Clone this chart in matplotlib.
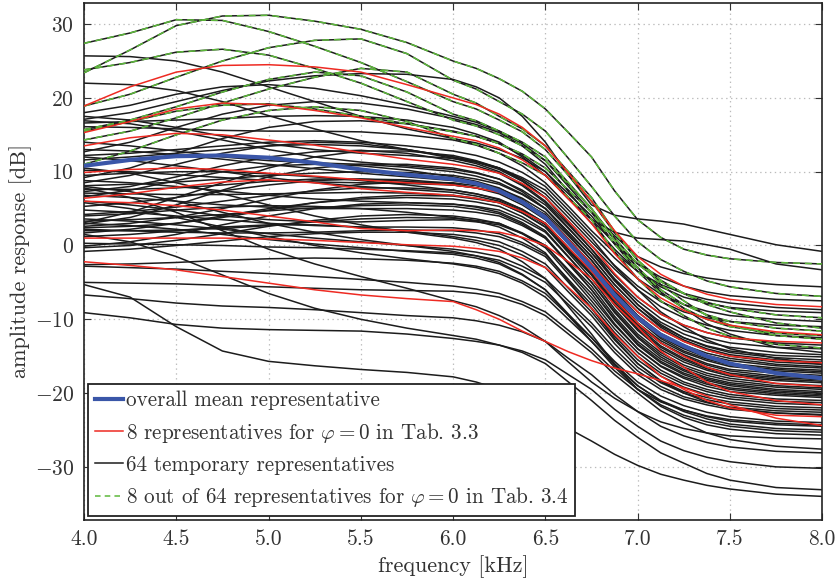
import matplotlib
matplotlib.use("Agg")
import matplotlib.pyplot as plt
from matplotlib.lines import Line2D

plt.rcParams["font.family"] = "serif"
plt.rcParams["font.serif"] = ["cmr10", "DejaVu Serif"]
plt.rcParams["mathtext.fontset"] = "cm"
plt.rcParams["axes.formatter.use_mathtext"] = True
plt.rcParams["axes.unicode_minus"] = True
plt.rcParams["lines.scale_dashes"] = False

# frequency grid (kHz)
freq = [4.0, 4.25, 4.5, 4.75, 5.0, 5.25, 5.5, 5.75, 6.0, 6.125, 6.25, 6.375, 6.5,
        6.625, 6.75, 6.875, 7.0, 7.125, 7.25, 7.375, 7.5, 7.75, 8.0]

# overall mean representative (dB)
mean_rep = [10.8, 11.6, 12.1, 12.2, 11.9, 11.2, 10.3, 9.6, 9.0, 8.4, 7.4, 5.9, 3.8, 0.4, -3.0, -6.7, -9.8, -12.1, -13.6, -15.0, -16.0, -17.3, -18.0]

# 8 representatives for phi=0 in Tab. 3.3 (red)
tab33_reps = [
    [18.9, 21.5, 23.5, 24.4, 24.5, 24.2, 23.5, 21.8, 20.0, 19.1, 17.8, 16.0, 13.5, 9.8, 6.0, 2.0, -1.5, -3.9, -5.5, -6.6, -7.3, -8.0, -8.3],
    [15.3, 16.8, 18.5, 19.3, 19.1, 18.3, 17.3, 16.0, 14.8, 14.2, 13.2, 11.6, 9.5, 6.3, 3.0, -1.1, -4.5, -7.1, -8.8, -10.0, -10.8, -11.7, -12.1],
    [13.5, 14.6, 15.2, 15.0, 14.3, 13.6, 12.6, 11.7, 11.0, 10.5, 9.8, 8.4, 6.5, 3.3, 0.0, -3.8, -7.0, -9.3, -10.8, -11.8, -12.5, -13.0, -13.2],
    [9.9, 10.3, 10.5, 10.3, 9.8, 9.4, 8.9, 8.5, 8.2, 7.8, 7.2, 5.9, 4.0, 0.8, -2.5, -6.0, -9.0, -11.4, -13.0, -14.2, -15.0, -15.6, -15.9],
    [6.4, 7.0, 7.9, 8.6, 8.9, 8.5, 7.7, 7.2, 6.8, 6.4, 5.8, 4.6, 3.0, -0.3, -3.5, -7.3, -10.5, -13.2, -15.0, -16.5, -17.5, -18.7, -19.1],
    [6.0, 5.8, 5.4, 4.8, 4.0, 3.2, 2.3, 2.0, 2.1, 2.0, 1.8, 1.1, 0.0, -2.2, -4.5, -8.0, -11.0, -14.3, -16.5, -18.5, -19.8, -21.0, -21.6],
    [1.0, 1.0, 1.0, 1.0, 0.9, 0.7, 0.4, 0.1, -0.1, -0.4, -0.8, -1.7, -3.0, -5.7, -8.5, -12.0, -15.0, -17.7, -19.5, -21.0, -22.0, -23.0, -23.2],
    [-2.2, -2.7, -3.3, -4.2, -5.1, -6.0, -6.7, -7.2, -7.6, -8.7, -10.0, -11.6, -13.0, -14.4, -15.6, -16.6, -17.4, -18.3, -19.3, -20.4, -21.6, -23.4, -24.4],
]

# 8 out of 64 representatives for phi=0 in Tab. 3.4 (green dashed, part of the 64)
tab34_reps = [
    [27.4, 28.8, 30.6, 30.5, 29.0, 27.0, 24.8, 22.2, 19.5, 18.5, 17.0, 15.4, 13.0, 9.5, 6.0, 1.7, -2.0, -4.7, -6.5, -8.0, -9.0, -10.5, -11.2],
    [23.4, 26.5, 29.8, 31.1, 31.2, 30.4, 29.3, 27.5, 25.0, 24.0, 22.6, 20.9, 18.5, 15.3, 12.0, 7.4, 3.5, 1.1, -0.5, -1.3, -1.8, -2.3, -2.5],
    [23.8, 24.8, 26.2, 26.6, 25.8, 24.0, 22.0, 19.5, 17.0, 16.2, 15.0, 13.5, 11.5, 8.3, 5.0, 1.0, -2.5, -4.9, -6.5, -7.7, -8.5, -9.4, -9.8],
    [18.9, 20.5, 22.8, 25.0, 26.8, 27.8, 28.0, 26.0, 22.4, 21.2, 19.5, 17.8, 15.5, 11.8, 8.0, 4.0, 0.5, -1.9, -3.5, -4.8, -5.6, -6.5, -6.9],
    [15.7, 17.0, 18.8, 20.8, 22.5, 23.5, 23.0, 20.8, 17.8, 16.9, 15.5, 14.0, 12.0, 8.5, 5.0, 0.7, -3.0, -6.0, -8.0, -9.4, -10.3, -11.2, -11.6],
    [14.3, 15.5, 17.3, 19.3, 21.2, 22.8, 24.0, 23.5, 20.5, 19.3, 17.5, 15.8, 13.5, 10.0, 6.5, 1.9, -2.0, -5.3, -7.5, -9.5, -10.8, -12.2, -12.7],
    [11.0, 12.8, 15.0, 17.0, 18.3, 18.8, 18.3, 16.8, 14.5, 13.7, 12.5, 11.2, 9.5, 6.5, 3.5, -0.8, -4.5, -7.5, -9.5, -11.2, -12.3, -13.4, -13.9],
    [15.5, 16.8, 18.2, 19.0, 19.2, 18.5, 17.5, 16.5, 15.4, 14.8, 13.8, 12.4, 10.5, 7.5, 4.5, 0.2, -3.5, -6.5, -8.5, -10.0, -11.0, -11.9, -12.2],
]

# remaining 56 of the 64 temporary representatives (black)
temp_reps = [
    [25.7, 25.6, 25.0, 23.5, 21.5, 19.5, 17.5, 15.8, 14.5, 13.9, 13.0, 11.8, 10.0, 7.0, 4.0, 0.2, -3.0, -6.3, -8.5, -10.6, -12.0, -13.8, -14.5],
    [22.0, 21.8, 21.0, 19.5, 17.6, 15.8, 14.2, 13.0, 12.0, 11.4, 10.5, 9.2, 7.5, 4.3, 1.0, -2.8, -6.0, -9.0, -11.0, -12.8, -14.0, -15.3, -16.1],
    [17.1, 18.0, 19.5, 21.0, 22.3, 23.0, 23.3, 23.2, 22.5, 21.5, 20.0, 17.5, 14.0, 9.5, 5.5, 4.1, 3.6, 3.3, 2.9, 2.2, 1.5, 0.1, -0.8],
    [16.6, 16.8, 17.0, 17.2, 17.5, 17.6, 17.5, 17.0, 16.0, 15.1, 14.0, 12.0, 9.5, 6.3, 3.5, 1.8, 1.0, 0.8, 0.6, 0.1, -0.5, -2.5, -3.3],
    [18.0, 19.0, 20.5, 21.5, 21.8, 21.3, 20.3, 19.0, 17.5, 16.7, 15.5, 13.8, 11.5, 8.0, 4.5, 1.3, -1.5, -2.9, -3.8, -4.4, -4.8, -5.3, -5.6],
    [12.7, 14.0, 16.0, 17.8, 19.0, 19.5, 19.3, 18.5, 17.2, 16.4, 15.3, 13.5, 11.0, 7.3, 3.5, 0.3, -2.5, -4.3, -5.5, -6.3, -6.8, -7.3, -7.5],
    [16.1, 16.0, 15.8, 15.6, 15.5, 15.5, 15.4, 15.0, 14.3, 13.6, 12.5, 10.8, 8.5, 5.3, 2.0, -1.0, -3.5, -5.3, -6.5, -7.3, -7.8, -8.4, -8.7],
    [9.2, 10.5, 12.5, 14.5, 16.0, 16.8, 16.9, 16.5, 15.5, 14.8, 13.8, 12.2, 10.0, 6.5, 3.0, -0.5, -3.5, -5.6, -7.0, -7.8, -8.4, -8.9, -9.1],
    [12.2, 12.5, 13.0, 13.5, 14.0, 14.2, 14.0, 13.5, 12.8, 12.2, 11.3, 9.9, 8.0, 4.8, 1.5, -1.7, -4.5, -6.6, -8.0, -8.9, -9.5, -10.0, -10.3],
    [17.5, 17.0, 16.0, 14.8, 13.8, 13.0, 12.5, 12.2, 11.8, 11.3, 10.5, 9.0, 7.0, 3.8, 0.5, -2.7, -5.5, -7.6, -9.0, -9.8, -10.3, -10.8, -11.0],
    [11.6, 12.0, 12.5, 13.0, 13.5, 13.7, 13.5, 13.0, 12.0, 11.3, 10.3, 8.7, 6.5, 3.3, 0.0, -3.2, -6.0, -8.3, -9.8, -10.8, -11.5, -12.2, -12.5],
    [8.5, 9.5, 11.0, 12.5, 13.5, 14.0, 13.8, 13.0, 11.8, 11.1, 10.0, 8.3, 6.0, 2.8, -0.5, -4.0, -7.0, -9.3, -10.8, -11.8, -12.5, -13.2, -13.5],
    [16.9, 16.5, 15.5, 14.3, 13.0, 12.0, 11.3, 10.8, 10.3, 9.8, 9.0, 7.5, 5.5, 2.3, -1.0, -4.5, -7.5, -9.9, -11.5, -12.5, -13.2, -13.8, -14.0],
    [7.3, 8.0, 9.3, 10.8, 12.0, 12.7, 12.9, 12.5, 11.5, 10.8, 9.8, 8.1, 5.8, 2.4, -1.0, -4.8, -8.0, -10.4, -12.0, -13.1, -13.8, -14.5, -14.8],
    [14.0, 13.5, 12.8, 12.0, 11.5, 11.2, 11.0, 10.6, 10.0, 9.4, 8.5, 7.0, 5.0, 1.8, -1.5, -5.3, -8.5, -10.9, -12.5, -13.6, -14.3, -14.9, -15.1],
    [3.1, 4.5, 6.5, 8.5, 10.5, 12.0, 12.8, 12.8, 12.2, 11.5, 10.5, 8.8, 6.5, 3.0, -0.5, -4.6, -8.0, -10.7, -12.5, -13.7, -14.5, -15.2, -15.5],
    [8.1, 8.3, 8.6, 9.0, 9.5, 9.8, 10.0, 9.9, 9.5, 9.0, 8.3, 6.9, 5.0, 1.8, -1.5, -5.3, -8.5, -11.1, -12.8, -14.0, -14.8, -15.5, -15.8],
    [13.0, 12.8, 12.3, 11.7, 11.0, 10.4, 9.8, 9.3, 8.8, 8.4, 7.7, 6.4, 4.5, 1.3, -2.0, -5.8, -9.0, -11.4, -13.0, -14.2, -15.0, -15.8, -16.1],
    [7.6, 7.6, 7.8, 8.2, 8.7, 9.0, 9.0, 8.7, 8.2, 7.8, 7.2, 5.9, 4.0, 0.8, -2.5, -6.3, -9.5, -11.9, -13.5, -14.6, -15.3, -16.1, -16.4],
    [2.9, 3.8, 5.5, 7.5, 9.3, 10.5, 11.0, 11.0, 10.5, 9.9, 9.0, 7.3, 5.0, 1.5, -2.0, -6.1, -9.5, -12.1, -13.8, -14.9, -15.6, -16.3, -16.6],
    [10.2, 10.0, 9.6, 9.2, 8.8, 8.6, 8.5, 8.4, 8.2, 7.8, 7.2, 5.9, 4.2, 0.9, -2.5, -6.6, -10.0, -12.4, -14.0, -15.2, -16.0, -16.6, -16.9],
    [6.6, 7.5, 8.8, 10.0, 10.8, 11.0, 10.8, 10.2, 9.3, 8.7, 7.8, 6.2, 4.0, 0.5, -3.0, -6.8, -10.0, -12.6, -14.3, -15.4, -16.2, -16.8, -17.1],
    [5.3, 5.8, 6.5, 7.4, 8.2, 8.8, 9.0, 8.9, 8.4, 7.8, 7.0, 5.5, 3.5, 0.3, -3.0, -7.1, -10.5, -12.9, -14.5, -15.6, -16.4, -17.0, -17.3],
    [9.5, 9.8, 10.0, 10.0, 9.7, 9.3, 8.8, 8.2, 7.5, 7.0, 6.2, 4.9, 3.0, -0.3, -3.5, -7.4, -10.8, -13.2, -14.8, -16.0, -16.8, -17.3, -17.6],
    [2.6, 3.0, 3.8, 5.0, 6.3, 7.5, 8.3, 8.6, 8.5, 8.1, 7.5, 6.0, 4.0, 0.5, -3.0, -7.1, -10.5, -13.2, -15.0, -16.2, -17.0, -17.7, -18.0],
    [4.2, 4.6, 5.2, 6.0, 6.8, 7.4, 7.8, 7.8, 7.5, 7.0, 6.3, 4.9, 3.0, -0.4, -3.8, -7.7, -11.0, -13.6, -15.3, -16.5, -17.3, -17.9, -18.2],
    [12.0, 11.5, 10.8, 10.0, 9.2, 8.5, 8.0, 7.6, 7.2, 6.7, 6.0, 4.7, 2.8, -0.6, -4.0, -7.9, -11.3, -13.8, -15.5, -16.7, -17.5, -18.1, -18.4],
    [7.1, 7.0, 6.9, 6.9, 7.0, 7.1, 7.2, 7.1, 6.8, 6.4, 5.8, 4.4, 2.5, -0.8, -4.0, -8.1, -11.5, -14.1, -15.8, -16.9, -17.7, -18.3, -18.6],
    [2.4, 2.6, 3.0, 3.8, 4.8, 5.8, 6.5, 6.8, 6.7, 6.3, 5.8, 4.4, 2.5, -1.0, -4.5, -8.6, -12.0, -14.5, -16.2, -17.3, -18.0, -18.7, -19.0],
    [8.8, 8.5, 8.0, 7.4, 6.8, 6.3, 6.0, 5.8, 5.6, 5.3, 4.8, 3.5, 1.8, -1.6, -5.0, -8.9, -12.3, -14.8, -16.5, -17.6, -18.3, -19.0, -19.3],
    [1.7, 2.2, 3.0, 4.0, 5.0, 5.8, 6.3, 6.5, 6.3, 5.9, 5.3, 3.9, 2.0, -1.5, -5.0, -9.1, -12.5, -15.1, -16.8, -17.9, -18.6, -19.2, -19.5],
    [6.8, 6.5, 6.0, 5.5, 5.2, 5.0, 5.0, 5.0, 4.8, 4.5, 4.0, 2.7, 1.0, -2.3, -5.5, -9.6, -13.0, -15.4, -17.0, -18.1, -18.8, -19.5, -19.8],
    [3.3, 3.5, 3.8, 4.2, 4.7, 5.1, 5.4, 5.5, 5.3, 4.9, 4.3, 2.9, 1.0, -2.5, -6.0, -9.9, -13.3, -15.7, -17.3, -18.3, -19.0, -19.7, -20.0],
    [-0.1, 0.5, 1.5, 2.8, 4.0, 5.0, 5.6, 5.8, 5.6, 5.2, 4.5, 3.1, 1.2, -2.4, -6.0, -10.1, -13.5, -15.9, -17.5, -18.6, -19.3, -19.9, -20.2],
    [6.0, 5.5, 4.8, 4.0, 3.5, 3.2, 3.2, 3.4, 3.5, 3.2, 2.8, 1.6, 0.0, -3.3, -6.5, -10.6, -14.0, -16.3, -17.8, -18.8, -19.5, -20.1, -20.4],
    [2.0, 2.0, 2.1, 2.3, 2.7, 3.2, 3.6, 3.8, 3.7, 3.4, 3.0, 1.7, 0.0, -3.5, -7.0, -10.8, -14.0, -16.4, -18.0, -19.1, -19.8, -20.3, -20.6],
    [-0.3, 0.0, 0.7, 1.6, 2.6, 3.4, 4.0, 4.2, 4.0, 3.6, 3.0, 1.6, -0.3, -3.9, -7.5, -11.3, -14.5, -16.9, -18.5, -19.5, -20.2, -20.8, -21.0],
    [4.8, 4.5, 4.0, 3.5, 3.0, 2.7, 2.5, 2.5, 2.4, 2.1, 1.6, 0.4, -1.2, -4.6, -8.0, -11.8, -15.0, -17.3, -18.8, -19.8, -20.5, -21.1, -21.3],
    [2.2, 2.0, 1.8, 1.7, 1.7, 1.8, 2.0, 2.1, 2.0, 1.7, 1.2, 0.1, -1.5, -5.0, -8.5, -12.3, -15.5, -17.7, -19.2, -20.2, -20.8, -21.4, -21.6],
    [-0.8, -0.5, 0.0, 0.6, 1.2, 1.6, 1.8, 1.8, 1.5, 1.1, 0.5, -0.8, -2.5, -5.8, -9.0, -12.8, -16.0, -18.3, -19.8, -20.6, -21.2, -21.8, -22.0],
    [1.2, 1.5, 2.0, 2.5, 2.8, 2.8, 2.5, 2.0, 1.2, 0.7, 0.0, -1.3, -3.0, -6.3, -9.5, -13.3, -16.5, -18.6, -20.0, -20.9, -21.5, -22.1, -22.3],
    [3.6, 3.3, 2.8, 2.2, 1.6, 1.0, 0.5, 0.0, -0.5, -0.9, -1.5, -2.8, -4.5, -7.5, -10.5, -14.0, -17.0, -19.1, -20.5, -21.3, -21.9, -22.4, -22.6],
    [0.3, 0.2, 0.1, 0.0, -0.2, -0.3, -0.5, -0.7, -1.0, -1.4, -2.0, -3.3, -5.0, -8.0, -11.0, -14.5, -17.5, -19.5, -20.8, -21.6, -22.2, -22.7, -22.9],
    [4.0, 4.3, 4.8, 5.2, 5.4, 5.3, 5.0, 4.5, 3.8, 3.3, 2.5, 1.0, -1.0, -4.8, -8.5, -12.6, -16.0, -18.4, -20.0, -21.2, -22.0, -22.7, -23.0],
    [-2.6, -2.5, -2.3, -2.0, -1.8, -1.7, -1.8, -2.0, -2.4, -2.8, -3.5, -4.8, -6.5, -9.5, -12.5, -15.7, -18.5, -20.4, -21.7, -22.6, -23.2, -23.8, -24.0],
    [-2.8, -3.0, -3.2, -3.5, -3.8, -4.2, -4.6, -5.0, -5.5, -5.9, -6.5, -7.6, -9.0, -11.5, -14.0, -17.0, -19.5, -21.2, -22.3, -23.1, -23.6, -24.1, -24.3],
    [5.8, 5.0, 3.8, 2.5, 1.2, 0.0, -1.0, -1.8, -2.5, -3.0, -3.8, -5.1, -7.0, -10.0, -13.0, -16.2, -19.0, -21.0, -22.3, -23.2, -23.8, -24.3, -24.5],
    [3.0, 2.7, 2.2, 1.5, 0.8, 0.2, -0.3, -0.8, -1.2, -1.7, -2.5, -4.0, -6.0, -9.3, -12.5, -16.0, -19.0, -21.1, -22.5, -23.5, -24.2, -24.8, -25.0],
    [8.0, 7.3, 6.0, 4.5, 3.0, 1.8, 0.8, 0.0, -0.8, -1.4, -2.3, -3.9, -6.0, -9.5, -13.0, -16.5, -19.5, -21.6, -23.0, -23.9, -24.5, -25.1, -25.3],
    [10.5, 9.8, 8.5, 7.0, 5.5, 4.0, 2.8, 1.8, 1.0, 0.4, -0.5, -2.2, -4.5, -8.3, -12.0, -16.1, -19.5, -21.8, -23.3, -24.3, -24.9, -25.5, -25.7],
    [7.8, 6.5, 4.5, 2.0, -0.5, -2.5, -4.2, -5.8, -7.5, -8.3, -9.5, -11.0, -13.0, -15.8, -18.5, -20.7, -22.5, -23.9, -24.8, -25.4, -25.8, -26.1, -26.2],
    [-5.0, -5.1, -5.2, -5.4, -5.6, -5.8, -6.0, -6.1, -6.2, -6.5, -7.0, -8.0, -9.5, -12.0, -14.5, -17.5, -20.0, -22.4, -24.0, -25.4, -26.3, -27.2, -27.6],
    [-6.7, -7.2, -7.8, -8.2, -8.4, -8.7, -9.1, -9.5, -9.8, -10.2, -10.8, -11.7, -13.0, -15.3, -17.5, -20.2, -22.5, -24.5, -25.8, -26.7, -27.3, -27.9, -28.1],
    [-9.1, -9.8, -10.7, -11.2, -11.4, -11.5, -11.6, -12.0, -12.6, -13.0, -13.5, -14.3, -15.5, -17.5, -19.5, -22.2, -24.5, -26.5, -27.8, -28.7, -29.3, -30.0, -30.2],
    [1.5, 0.5, -1.5, -4.0, -6.5, -8.5, -10.0, -11.2, -12.2, -12.7, -13.5, -14.5, -16.0, -18.5, -21.0, -23.7, -26.0, -28.1, -29.5, -30.9, -31.8, -32.8, -33.1],
    [-5.3, -7.0, -11.0, -14.3, -15.7, -16.3, -16.8, -17.2, -17.8, -18.5, -19.5, -20.9, -23.0, -24.8, -26.5, -28.3, -29.8, -31.0, -31.8, -32.5, -33.0, -33.7, -34.0],
]

labels = [
    "overall mean representative",
    r"8 representatives for $\varphi{=}0$ in Tab. 3.3",
    "64 temporary representatives",
    r"8 out of 64 representatives for $\varphi{=}0$ in Tab. 3.4",
]

c_black = "#1c1c1c"
c_red = "#ee2a22"
c_green = "#5cb83a"
c_blue = "#3a56a8"

fig = plt.figure(figsize=(8.39, 5.79), dpi=100)
ax = fig.add_axes([0.1001, 0.1019, 0.8799, 0.8934])

for y in temp_reps + tab34_reps:
    ax.plot(freq, y, color=c_black, lw=1.1, zorder=2)
for y in tab34_reps:
    ax.plot(freq, y, color=c_green, lw=1.1, dashes=(5, 3.5), zorder=3)
for y in tab33_reps:
    ax.plot(freq, y, color=c_red, lw=1.1, zorder=4)
ax.plot(freq, mean_rep, color=c_blue, lw=3.0, zorder=5, solid_capstyle="butt")

ax.set_xlim(4.0, 8.0)
ax.set_ylim(-37.2, 32.9)
ax.set_xticks([4.0, 4.5, 5.0, 5.5, 6.0, 6.5, 7.0, 7.5, 8.0])
ax.set_xticklabels(["4.0", "4.5", "5.0", "5.5", "6.0", "6.5", "7.0", "7.5", "8.0"])
ax.set_yticks([-30, -20, -10, 0, 10, 20, 30])
ax.tick_params(direction="in", top=True, right=True, length=5, width=0.8,
               labelsize=15.5, colors="#333333", pad=7)
ax.grid(True, color="#bbbbbb", linestyle=(0, (1, 2.5)), lw=0.9, zorder=0)
for s in ax.spines.values():
    s.set_linewidth(1.2)
    s.set_color("#222222")

ax.set_xlabel("frequency [kHz]", fontsize=16, color="#333333", labelpad=4)
ax.set_ylabel("amplitude response [dB]", fontsize=16, color="#333333", labelpad=2)

handles = [
    Line2D([], [], color=c_blue, lw=3.0),
    Line2D([], [], color=c_red, lw=1.1),
    Line2D([], [], color=c_black, lw=1.1),
    Line2D([], [], color=c_green, lw=1.1, dashes=(4, 3)),
]
leg = ax.legend(handles, labels, loc="lower left", bbox_to_anchor=(0.0058, 0.0083),
                borderaxespad=0, fontsize=15.2, frameon=True, fancybox=False,
                framealpha=1, edgecolor="#222222", handlelength=1.35,
                handletextpad=0.15, labelspacing=0.5, borderpad=0.3)
leg.get_frame().set_linewidth(1.3)
leg.set_zorder(10)
for t in leg.get_texts():
    t.set_color("#333333")

fig.savefig("out.png", dpi=100)
